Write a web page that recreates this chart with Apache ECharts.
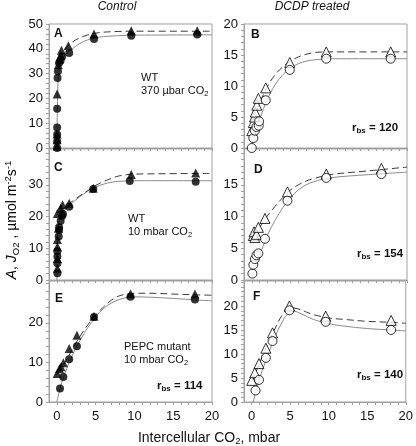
<!DOCTYPE html>
<html><head><meta charset="utf-8">
<script src="https://cdn.jsdelivr.net/npm/echarts@6/dist/echarts.min.js"></script>
<style>html,body{margin:0;padding:0;background:#fff}#c{width:416px;height:446px}</style>
</head><body><div id="c"></div>
<script>
// ---- data (x = intercellular CO2, mbar; y = A or J_O2) ----
const aCirc = [[0.05,0],[0.05,2.7],[0.05,5.4],[0.05,8.3],[0.05,15.8],[0.1,28.2],[0.15,30.9],[0.3,34.3],[0.5,35.3],[0.7,36.9],[1.6,38.3],[4.8,44],[9.6,45.3],[18.1,45.8]];
const aTri  = [[0.05,0.7],[0.05,3.3],[0.05,5.6],[0.05,21.8],[0.2,33.6],[0.35,35.9],[0.5,37.3],[0.6,39.4],[1.5,41.2],[4.8,46],[9.6,47.3],[18.1,47.3]];
const aSolid = [[0.02,0],[0.1,20],[0.25,31],[0.5,35],[1,37.3],[2,40],[3,42.2],[4,43.6],[5,44.4],[6,44.9],[8,45.3],[10,45.5],[20,45.6]];
const aDash  = [[0.3,36],[0.6,38.5],[1,40],[2,42.7],[3,44.5],[4,45.6],[5,46.3],[6,46.7],[8,47],[10,47.1],[20,47.1]];

const bCirc = [[0,0],[0.2,1.6],[0.4,2.8],[0.6,3.4],[0.9,3.6],[0.95,4.3],[1.8,7.7],[4.9,12.6],[9.6,14.4],[17.9,14.4]];
const bTri  = [[0,2.8],[0.2,4.1],[0.35,5],[0.45,5.8],[0.65,6.9],[0.85,8],[1.8,9.7],[4.9,13.8],[9.6,15.5],[17.9,15.5]];
const bSolid = [[0,0.5],[0.5,2.5],[1,4.6],[2,7.8],[3,10.2],[4,11.8],[5,12.9],[6,13.6],[7,14],[8,14.2],[10,14.4],[20,14.4]];
const bDash  = [[0,2.5],[0.5,5.5],[1,7.2],[2,9.9],[3,11.8],[4,13.1],[5,14],[6,14.7],[7,15.1],[8,15.4],[10,15.5],[20,15.5]];

const cCirc = [[0.08,2.1],[0.08,5.3],[0.08,7.4],[0.08,9.1],[0.25,13.7],[0.3,15.8],[0.3,16.6],[0.5,18.6],[0.7,20.2],[0.8,20.8],[1.6,23.1],[4.7,28.7],[9.4,31.2],[17.9,31]];
const cTri  = [[0.08,3.7],[0.08,6.8],[0.08,10.5],[0.08,12.8],[0.2,16.3],[0.08,21],[0.5,22.6],[0.75,23.7],[1.6,24.2],[4.7,28.9],[9.6,33.3],[17.9,33.7]];
const cSolid = [[0.02,0],[0.1,12],[0.3,19],[0.6,21],[1,22],[2,24.3],[3,26.3],[4,28],[5,29.3],[6,30.2],[7,30.8],[8,31.1],[10,31.3],[20,31.3]];
const cDash  = [[0.3,21.5],[1,22.7],[2,24.8],[3,26.6],[4,28.2],[5,29.8],[6,31],[7,32],[8,32.8],[9,33.2],[10,33.4],[20,33.6]];

const dCirc = [[0.08,1],[0.2,2.4],[0.4,3.3],[0.6,3.9],[0.85,4.2],[1.7,6.5],[4.6,12.5],[9.6,16.1],[16.7,16.7]];
const dTri  = [[0.2,7],[0.3,7.6],[0.4,6.7],[0.6,7.2],[0.85,8.3],[1.7,9.7],[4.6,13.9],[9.6,16.7],[16.7,17.6]];
const dSolid = [[0.6,2.5],[1,3.8],[2,7],[3,9.4],[4,11.4],[5,13],[6,14.2],[7,15],[8,15.5],[10,16.1],[15,16.6],[20,17]];
const dDash  = [[0.2,6.8],[1,8.3],[2,10.1],[3,11.6],[4,13],[5,14.2],[6,15],[7,15.6],[8,16],[10,16.6],[15,17.2],[20,17.8]];

const eCirc = [[0.42,3.4],[0.85,6.3],[1.6,10.8],[2.6,14.1],[4.8,21.5],[9.5,26.6],[17.8,25.9]];
const eTri  = [[0.05,7.2],[0.35,8.4],[0.55,8.9],[0.85,9.9],[1.6,13.5],[2.6,16.9],[4.8,21.7],[9.5,27.4],[17.8,27.3]];
const eSolid = [[0,0],[0.5,4],[1,7],[2,11.8],[3,15.6],[4,18.8],[5,21.5],[6,23.6],[7,25],[8,25.9],[9,26.4],[10,26.6],[12,26.5],[15,26.2],[18,25.8],[20,25.6]];
const eDash  = [[0,7],[1,9.8],[2,13.3],[3,16.6],[4,19.5],[5,21.9],[6,24],[7,25.7],[8,26.8],[9,27.3],[10,27.5],[12,27.5],[15,27.3],[18,27.1],[20,27]];

const fCirc = [[0.5,2.4],[0.95,4.6],[1.84,9.2],[2.7,12.7],[4.9,19.1],[9.6,16.7],[18.1,15]];
const fTri  = [[0,4.5],[0.4,6.1],[0.94,8],[1.84,11.2],[2.7,14.4],[4.9,20],[9.6,17.9],[18.1,17]];
const fSolid = [[0.2,0],[1,4.8],[2,9.3],[3,13.5],[4,16.8],[4.8,18.6],[5.5,18.9],[6.5,18.3],[8,17.2],[10,16.3],[12,15.8],[15,15.3],[18,15],[20,14.8]];
const fDash  = [[0,4.2],[1,8],[2,11.8],[3,15.2],[4,18.2],[5,19.7],[6,19.4],[7,18.8],[8,18.2],[10,17.5],[12,17.2],[15,16.8],[18,16.6],[20,16.4]];

// tick labels
const xLabels = [0,5,10,15,20];
const yLabA = [0,10,20,30,40,50];
const yLabB = [0,5,10,15,20];
const yLabC = [0,10,20,30];
const yLabD = [0,5,10,15];
const yLabE = [0,10,20];
const yLabF = [0,5,10,15,20];
const yMax = [50,20,41.3,20.65,30.6,25.2];

// ---- layout ----
const FONT = '"Liberation Sans", Arial, sans-serif';
const LX = 49, RX = 244, W = 163;
const rows = [[24,124],[149,131],[281,121]];
const panels = [
  {circ:aCirc,tri:aTri,solid:aSolid,dash:aDash,lab:yLabA,step:2,open:false,col:0,row:0},
  {circ:bCirc,tri:bTri,solid:bSolid,dash:bDash,lab:yLabB,step:1,open:true,col:1,row:0},
  {circ:cCirc,tri:cTri,solid:cSolid,dash:cDash,lab:yLabC,step:2,open:false,col:0,row:1},
  {circ:dCirc,tri:dTri,solid:dSolid,dash:dDash,lab:yLabD,step:1,open:true,col:1,row:1},
  {circ:eCirc,tri:eTri,solid:eSolid,dash:eDash,lab:yLabE,step:2,open:false,col:0,row:2},
  {circ:fCirc,tri:fTri,solid:fSolid,dash:fDash,lab:yLabF,step:1,open:true,col:1,row:2}
];
function range(a,b,s){const r=[];for(let v=a;v<=b+1e-9;v+=s)r.push(+v.toFixed(3));return r;}

const grid=[],xAxis=[],yAxis=[],series=[];
panels.forEach((p,i)=>{
  grid.push({left:p.col?RX:LX, top:rows[p.row][0], width:W, height:rows[p.row][1],
    show:true, borderColor:'#a0a0a0', borderWidth:1, containLabel:false});
  const showX = p.row===2;
  xAxis.push({type:'value', gridIndex:i, min:-1, max:20,
    axisLine:{show:true,onZero:false,lineStyle:{color:'#a0a0a0'}},
    axisTick:{show:true,customValues:range(0,20,1),length:3,inside:false,lineStyle:{color:'#a0a0a0'}},
    axisLabel:{show:showX,customValues:xLabels,color:'#111',fontFamily:FONT,fontSize:13,margin:8},
    splitLine:{show:false}});
  yAxis.push({type:'value', gridIndex:i, min:0, max:yMax[i],
    axisLine:{show:true,onZero:false,lineStyle:{color:'#a0a0a0'}},
    axisTick:{show:true,customValues:range(0,Math.floor(yMax[i]),p.step),length:3,lineStyle:{color:'#a0a0a0'}},
    axisLabel:{customValues:p.lab,color:'#111',fontFamily:FONT,fontSize:13,margin:6},
    splitLine:{show:false}});
  series.push({type:'line',xAxisIndex:i,yAxisIndex:i,data:p.solid,smooth:0.35,showSymbol:false,
    lineStyle:{color:'#8a8a8a',width:1},z:2,silent:true});
  series.push({type:'line',xAxisIndex:i,yAxisIndex:i,data:p.dash,smooth:0.35,showSymbol:false,
    lineStyle:{color:'#3a3a3a',width:1,type:[7,4]},z:2,silent:true});
  const st = p.open ? {color:'#fff',borderColor:'#000',borderWidth:1} : {color:'#000'};
  series.push({type:'scatter',xAxisIndex:i,yAxisIndex:i,data:p.tri,symbol:'triangle',symbolSize:p.open?10:9,
    itemStyle:st,z:4});
  series.push({type:'scatter',xAxisIndex:i,yAxisIndex:i,data:p.circ,symbol:'circle',symbolSize:p.open?9:8,
    itemStyle:st,z:5});
});

function T(x,y,text,rich,extra){
  return {type:'text',x:x,y:y,z:10,style:Object.assign({text:text,rich:rich,
    fill:'#111',font:'12px '+FONT,textAlign:'left',textVerticalAlign:'middle',align:'left',verticalAlign:'middle'},extra||{})};
}
const base = {fontFamily:FONT,fontSize:11,lineHeight:14,color:'#111'};
const richCO = {n:Object.assign({},base), s:Object.assign({},base,{fontSize:7.5,lineHeight:9,verticalAlign:'bottom'})};
const richR = {r:Object.assign({},base,{fontWeight:'bold',fontSize:11.5}), s:Object.assign({},base,{fontWeight:'bold',fontSize:8,lineHeight:9,verticalAlign:'bottom'})};
const richL = {b:Object.assign({},base,{fontWeight:'bold',fontSize:12})};
const richI = {i:Object.assign({},base,{fontStyle:'italic',fontSize:12})};
const richY = {
  i:Object.assign({},base,{fontStyle:'italic',fontSize:14,lineHeight:18}),
  n:Object.assign({},base,{fontSize:14,lineHeight:18}),
  s:Object.assign({},base,{fontSize:9.5,lineHeight:11,verticalAlign:'bottom'}),
  p:Object.assign({},base,{fontSize:9.5,lineHeight:11,verticalAlign:'top'})
};
const richX = {n:Object.assign({},base,{fontSize:14,lineHeight:17}), s:Object.assign({},base,{fontSize:9.5,lineHeight:11,verticalAlign:'bottom'})};

const graphic = [
  T(117,7,'{i|Control}',richI,{textAlign:'center',align:'center'}),
  T(312,7,'{i|DCDP treated}',richI,{textAlign:'center',align:'center'}),
  T(54,34,'{b|A}',richL), T(251,35,'{b|B}',richL),
  T(54,168,'{b|C}',richL), T(254,170,'{b|D}',richL),
  T(55,299,'{b|E}',richL), T(253,297,'{b|F}',richL),
  T(141,78,'{n|WT}',richCO), T(141,91,'{n|370 µbar CO}{s|2}',richCO),
  T(128,219,'{n|WT}',richCO), T(128,232,'{n|10 mbar CO}{s|2}',richCO),
  T(124,347,'{n|PEPC mutant}',richCO), T(124,360,'{n|10 mbar CO}{s|2}',richCO),
  T(157,386,'{r|r}{s|bs}{r| = 114}',richR),
  T(352,128,'{r|r}{s|bs}{r| = 120}',richR),
  T(357,254,'{r|r}{s|bs}{r| = 154}',richR),
  T(357,375,'{r|r}{s|bs}{r| = 140}',richR),
  {type:'text',x:12,y:220,rotation:Math.PI/2,z:10,style:{text:'{i|A}{n|, }{i|J}{s|O2}{n| , µmol m}{p|-2}{n|s}{p|-1}',rich:richY,
    textAlign:'center',align:'center',textVerticalAlign:'middle',verticalAlign:'middle'}},
  T(209,438,'{n|Intercellular CO}{s|2}{n|, mbar}',richX,{textAlign:'center',align:'center'})
];

const chart = echarts.init(document.getElementById('c'),null,{renderer:'canvas'});
chart.setOption({animation:false,backgroundColor:'#fff',grid,xAxis,yAxis,series,graphic});
</script></body></html>
